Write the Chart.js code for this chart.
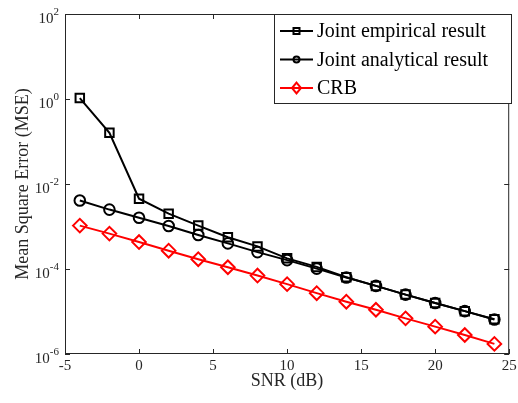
<!DOCTYPE html>
<html>
<head>
<meta charset="utf-8">
<script src="https://cdn.jsdelivr.net/npm/chart.js@4.4.0/dist/chart.umd.min.js"></script>
<style>
  html, body { margin: 0; padding: 0; background: #fff; }
  #wrap { width: 518px; height: 403px; }
</style>
</head>
<body>
<div id="wrap"><canvas id="grafico"></canvas></div>
<script>
// dados
const snr = [-4, -2, 0, 2, 4, 6, 8, 10, 12, 14, 16, 18, 20, 22, 24];
const empirico = [1.05, 0.16, 0.0045, 0.0020, 0.00105, 5.6e-4, 3.4e-4, 1.78e-4, 1.12e-4, 6.4e-5, 4.0e-5, 2.5e-5, 1.58e-5, 1.02e-5, 6.6e-6];
const analitico = [0.0041, 0.0025, 0.0016, 0.00103, 6.3e-4, 4.0e-4, 2.5e-4, 1.62e-4, 1.02e-4, 6.3e-5, 4.0e-5, 2.5e-5, 1.58e-5, 1.02e-5, 6.5e-6];
const crb = [1.05e-3, 6.8e-4, 4.3e-4, 2.7e-4, 1.7e-4, 1.1e-4, 7.0e-5, 4.4e-5, 2.7e-5, 1.7e-5, 1.1e-5, 6.9e-6, 4.4e-6, 2.8e-6, 1.73e-6];
const xTicks = [-5, 0, 5, 10, 15, 20, 25];
const yExpoentes = [2, 0, -2, -4, -6];
const nomes = ['Joint empirical result', 'Joint analytical result', 'CRB'];

const corEixo = '#262626';
const fonte = '"Liberation Serif", "Times New Roman", serif';

const pares = (ys) => snr.map((x, i) => ({ x: x, y: ys[i] }));

function marcador(ctx, estilo, x, y, r) {
    ctx.beginPath();
    if (estilo === 'rect') {
        ctx.rect(x - r, y - r, 2 * r, 2 * r);
    } else if (estilo === 'circle') {
        ctx.arc(x, y, r, 0, Math.PI * 2);
    } else {
        ctx.moveTo(x, y - r * 1.2);
        ctx.lineTo(x + r, y);
        ctx.lineTo(x, y + r * 1.2);
        ctx.lineTo(x - r, y);
        ctx.closePath();
    }
    ctx.stroke();
}

// moldura, ticks, rótulos e legenda no estilo MATLAB
const moldura = {
    id: 'moldura',
    afterDraw(chart) {
        const ctx = chart.ctx;
        const a = chart.chartArea;
        const xs = chart.scales.x;
        const ys = chart.scales.y;
        ctx.save();
        ctx.strokeStyle = corEixo;
        ctx.lineWidth = 1;
        ctx.strokeRect(a.left + 0.5, a.top + 0.5, a.right - a.left - 1, a.bottom - a.top - 1);

        const tl = 5;
        ctx.beginPath();
        xTicks.forEach(v => {
            const px = Math.round(xs.getPixelForValue(v)) + 0.5;
            ctx.moveTo(px, a.bottom); ctx.lineTo(px, a.bottom - tl);
            ctx.moveTo(px, a.top); ctx.lineTo(px, a.top + tl);
        });
        yExpoentes.forEach(e => {
            const py = Math.round(ys.getPixelForValue(Math.pow(10, e))) + 0.5;
            ctx.moveTo(a.left, py); ctx.lineTo(a.left + tl, py);
            ctx.moveTo(a.right, py); ctx.lineTo(a.right - tl, py);
        });
        ctx.stroke();

        // rótulos do eixo y com expoente
        ctx.fillStyle = corEixo;
        ctx.textBaseline = 'alphabetic';
        yExpoentes.forEach(e => {
            const py = ys.getPixelForValue(Math.pow(10, e));
            const exp = String(e);
            ctx.font = '11px ' + fonte;
            const wExp = ctx.measureText(exp).width;
            ctx.font = '15px ' + fonte;
            const wBase = ctx.measureText('10').width;
            const xFim = a.left - 6;
            ctx.textAlign = 'left';
            ctx.fillText('10', xFim - wExp - wBase, py + 9);
            ctx.font = '11px ' + fonte;
            ctx.fillText(exp, xFim - wExp, py + 1);
        });

        // títulos
        ctx.font = '18px ' + fonte;
        ctx.textAlign = 'center';
        ctx.fillText('SNR (dB)', (a.left + a.right) / 2, 386);
        ctx.save();
        ctx.translate(28, (a.top + a.bottom) / 2);
        ctx.rotate(-Math.PI / 2);
        ctx.fillText('Mean Square Error (MSE)', 0, 0);
        ctx.restore();

        // legenda
        const lx = 274, ly = 14, lw = 238, lh = 90;
        ctx.fillStyle = '#fff';
        ctx.fillRect(lx, ly, lw, lh);
        ctx.strokeStyle = corEixo;
        ctx.lineWidth = 1;
        ctx.strokeRect(lx + 0.5, ly + 0.5, lw - 1, lh - 1);
        ctx.font = '20px ' + fonte;
        ctx.textAlign = 'left';
        ctx.textBaseline = 'middle';
        chart.data.datasets.forEach((ds, i) => {
            const cy = 31 + i * 28.5;
            ctx.strokeStyle = ds.borderColor;
            ctx.lineWidth = 2;
            ctx.beginPath();
            ctx.moveTo(280, cy); ctx.lineTo(313, cy);
            ctx.stroke();
            marcador(ctx, ds.pointStyle, 296.5, cy, ds.pointStyle === 'rectRot' ? 4.5 : 3);
            ctx.fillStyle = '#000';
            ctx.fillText(nomes[i], 317, cy + 1);
        });
        ctx.restore();
    }
};

function criarGrafico() {
    const ctx = document.getElementById('grafico').getContext('2d');
    const base = {
        fill: false,
        borderWidth: 2,
        pointBorderWidth: 2,
        pointBackgroundColor: 'rgba(0,0,0,0)',
        tension: 0
    };
    window.graficoMSE = new Chart(ctx, {
        type: 'line',
        data: {
            datasets: [
                Object.assign({}, base, { label: nomes[0], data: pares(empirico), borderColor: '#000', pointBorderColor: '#000', pointStyle: 'rect', pointRadius: 6 }),
                Object.assign({}, base, { label: nomes[1], data: pares(analitico), borderColor: '#000', pointBorderColor: '#000', pointStyle: 'circle', pointRadius: 5.3 }),
                Object.assign({}, base, { label: nomes[2], data: pares(crb), borderColor: '#ff0000', pointBorderColor: '#ff0000', pointStyle: 'rectRot', pointRadius: 6.8 })
            ]
        },
        options: {
            responsive: false,
            animation: false,
            layout: { padding: { top: 14, right: 6, left: 0, bottom: 0 } },
            plugins: { legend: { display: false }, tooltip: { enabled: false } },
            scales: {
                x: {
                    type: 'linear',
                    min: -5,
                    max: 25,
                    afterBuildTicks: (s) => { s.ticks = xTicks.map(v => ({ value: v })); },
                    afterFit: (s) => { s.height = 49; },
                    grid: { display: false },
                    border: { display: false },
                    ticks: { color: corEixo, font: { family: fonte, size: 15 }, padding: -5, maxRotation: 0 }
                },
                y: {
                    type: 'logarithmic',
                    min: 1e-6,
                    max: 1e2,
                    afterBuildTicks: (s) => { s.ticks = yExpoentes.map(e => ({ value: Math.pow(10, e) })); },
                    afterFit: (s) => { s.width = 65; },
                    grid: { display: false },
                    border: { display: false },
                    ticks: { display: false }
                }
            }
        },
        plugins: [moldura]
    });
}

document.addEventListener('DOMContentLoaded', () => {
    const c = document.getElementById('grafico');
    c.width = 518;
    c.height = 403;
    criarGrafico();
});
</script>
</body>
</html>
